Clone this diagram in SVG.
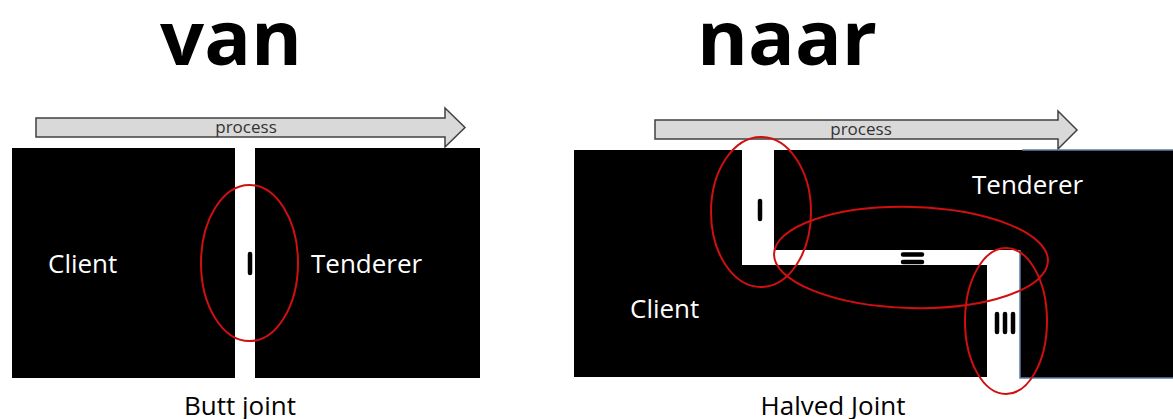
<svg xmlns="http://www.w3.org/2000/svg" width="1173" height="419" viewBox="0 0 1173 419">
  <style>
    .title { font-family: "Open Sans", "Noto Sans", sans-serif; font-weight: bold; font-size: 76px; fill: #000; }
    .lbl { font-family: "Open Sans", "Noto Sans", sans-serif; font-size: 26px; fill: #fff; }
    .cap { font-family: "Open Sans", "Noto Sans", sans-serif; font-size: 26px; fill: #000; text-anchor: middle; }
    .proc { font-family: "Open Sans", "Noto Sans", sans-serif; font-size: 17px; fill: #333; text-anchor: middle; }
    .arrow { fill: #d9d9d9; stroke: #404040; stroke-width: 1.5; stroke-linejoin: miter; }
    .blk { fill: #000; }
    .ring { fill: none; stroke: #d01010; stroke-width: 2; }
    .mark { stroke: #000; stroke-width: 4.5; stroke-linecap: round; }
    .edge { fill: none; stroke: #5b7fa6; stroke-width: 1.5; }
  </style>
  <rect width="1173" height="419" fill="#fff"/>

  <g id="title-van"><text class="title" x="160" y="65" textLength="142" lengthAdjust="spacingAndGlyphs">van</text></g>
  <g id="title-naar"><text class="title" x="697" y="65" textLength="180" lengthAdjust="spacingAndGlyphs">naar</text></g>

  <!-- Left: Butt joint -->
  <g id="process-left">
    <polygon class="arrow" points="36,118 445,118 445,108 465,127.5 445,147 445,137 36,137"/>
    <text class="proc" x="246" y="133">process</text>
  </g>
  <g id="client-left">
    <rect class="blk" x="12" y="148" width="223" height="230"/>
    <text class="lbl" x="48" y="273">Client</text>
  </g>
  <g id="tenderer-left">
    <rect class="blk" x="255" y="148" width="225" height="230"/>
    <text class="lbl" x="311" y="273">Tenderer</text>
  </g>
  <g id="joint-left">
    <line class="mark" x1="250" y1="254" x2="250" y2="273"/>
    <ellipse class="ring" cx="249.5" cy="263" rx="48.5" ry="78"/>
  </g>
  <g id="caption-left"><text class="cap" x="240" y="415">Butt joint</text></g>

  <!-- Right: Halved joint -->
  <g id="process-right">
    <polygon class="arrow" points="655,120 1058,120 1058,111 1077,130 1058,149 1058,139 655,139"/>
    <text class="proc" x="861" y="135">process</text>
  </g>
  <g id="client-right">
    <polygon class="blk" points="574,150 742,150 742,265 987,265 987,377 574,377"/>
    <text class="lbl" x="630" y="318">Client</text>
  </g>
  <g id="tenderer-right">
    <polygon class="blk" points="774,150 1173,150 1173,378 1020,378 1020,250 774,250"/>
    <polyline class="edge" points="1022,150 1173,150"/>
    <polyline class="edge" points="1020,250 1020,378 1173,378"/>
    <text class="lbl" x="972" y="194">Tenderer</text>
  </g>
  <g id="joint-right">
    <line class="mark" x1="760" y1="201" x2="760" y2="219"/>
    <line class="mark" x1="903" y1="254.5" x2="922" y2="254.5"/>
    <line class="mark" x1="903" y1="262" x2="922" y2="262"/>
    <line class="mark" x1="997" y1="314" x2="997" y2="332"/>
    <line class="mark" x1="1005" y1="314" x2="1005" y2="332"/>
    <line class="mark" x1="1013" y1="314" x2="1013" y2="332"/>
  </g>
  <g id="rings-right">
    <ellipse class="ring" cx="761" cy="212" rx="50" ry="75"/>
    <ellipse class="ring" cx="911" cy="257.5" rx="137" ry="50.5" transform="rotate(1.5 911 257.5)"/>
    <ellipse class="ring" cx="1006" cy="321" rx="41" ry="73"/>
  </g>
  <g id="caption-right"><text class="cap" x="833" y="415">Halved Joint</text></g>
</svg>
